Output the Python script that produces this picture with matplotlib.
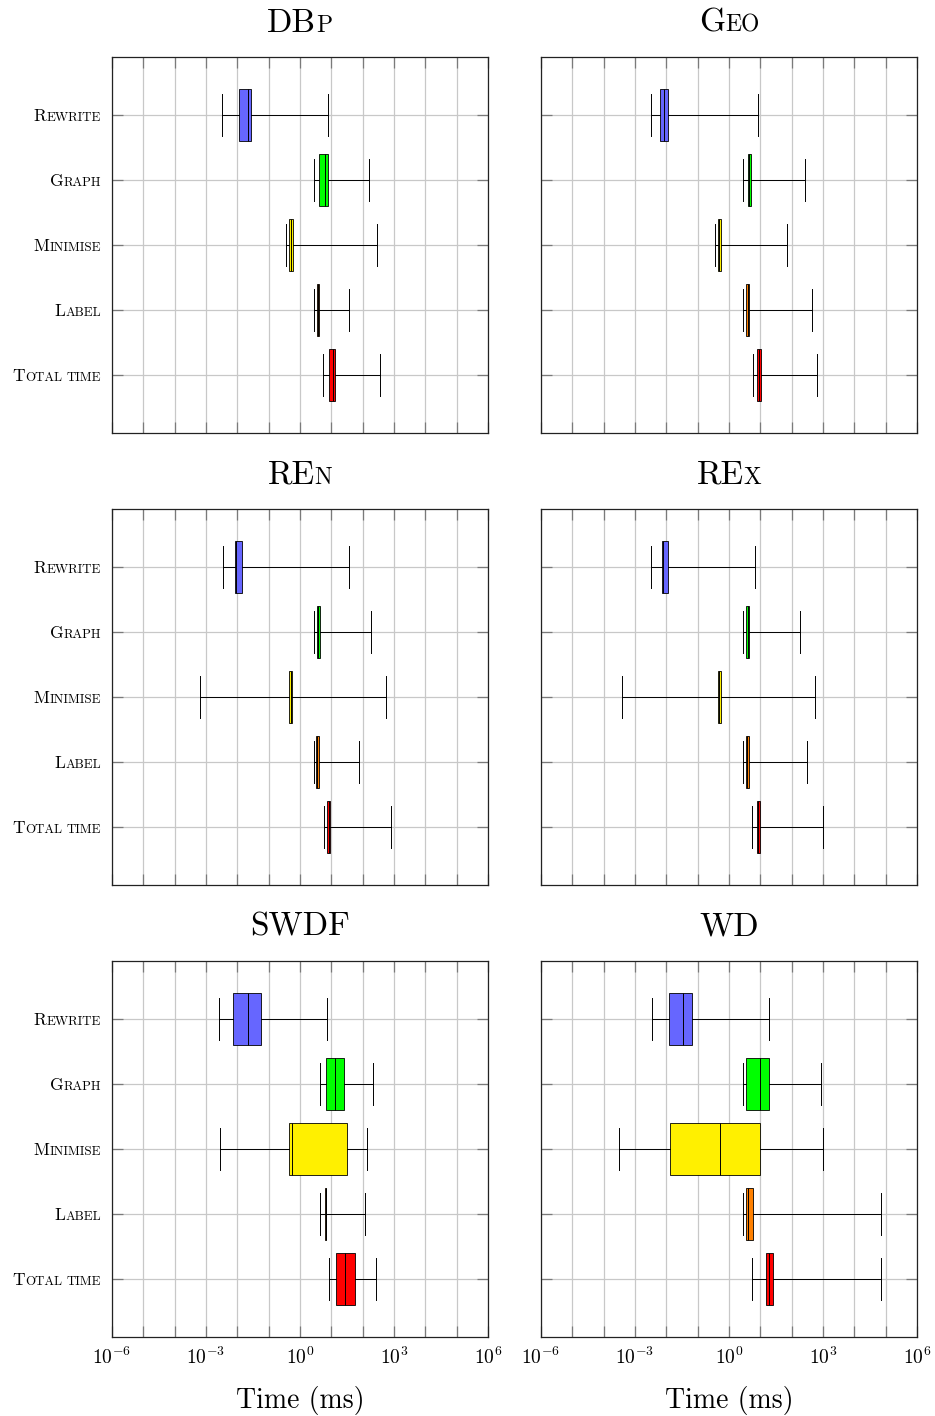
import matplotlib
matplotlib.use("Agg")
import matplotlib.pyplot as plt
from matplotlib.offsetbox import TextArea, HPacker, AnnotationBbox
from matplotlib.ticker import FixedLocator, FixedFormatter, NullLocator

plt.rcParams.update({
    "font.family": "cmr10",
    "mathtext.fontset": "cm",
    "axes.unicode_minus": False,
})

# Pipeline stages, top to bottom, and their box colours
STAGES = ["Rewrite", "Graph", "Minimise", "Label", "Total time"]
STAGE_COLORS = ["#6666ff", "#00ff00", "#fff000", "#ff8000", "#ff0000"]

# Per-stage summaries in ms: [whisker low, Q1, median, Q3, whisker high]
DBP = [[0.0033, 0.0115, 0.0214, 0.0282, 7.6],
       [2.8, 4.1, 6.2, 7.9, 158],
       [0.35, 0.43, 0.50, 0.58, 282],
       [2.8, 3.5, 3.8, 4.1, 38],
       [5.6, 8.5, 11.2, 13.2, 355]]
GEO = [[0.0032, 0.0062, 0.0083, 0.0115, 8.3],
       [2.9, 4.1, 4.5, 5.1, 257],
       [0.355, 0.43, 0.47, 0.55, 69],
       [2.8, 3.6, 3.9, 4.3, 437],
       [5.8, 8.1, 9.1, 10.2, 646]]
REN = [[0.0036, 0.0085, 0.0093, 0.0145, 36],
       [2.8, 3.5, 3.8, 4.4, 186],
       [0.00065, 0.45, 0.50, 0.56, 550],
       [2.8, 3.3, 3.5, 4.1, 79],
       [5.8, 7.2, 8.3, 9.3, 813]]
REX = [[0.0033, 0.0072, 0.0081, 0.0115, 6.9],
       [2.8, 3.5, 3.9, 4.4, 178],
       [0.00039, 0.46, 0.49, 0.55, 550],
       [2.8, 3.5, 3.8, 4.2, 309],
       [5.6, 7.6, 8.5, 9.5, 1020]]
SWDF = [[0.0026, 0.0071, 0.0224, 0.0575, 7.2],
        [4.3, 6.6, 12.9, 25.7, 214],
        [0.0028, 0.45, 0.56, 31, 141],
        [4.3, 6.3, 6.6, 6.9, 117],
        [8.7, 14.1, 27.5, 57.5, 275]]
WD = [[0.0036, 0.0123, 0.0347, 0.066, 18.6],
      [2.9, 3.4, 9.8, 19.1, 891],
      [0.00032, 0.0129, 0.52, 10, 1000],
      [2.8, 3.5, 4.0, 5.9, 70800],
      [5.6, 15.1, 19.1, 26.3, 70800]]

# Panel titles split into full-size capitals and small-caps tail
TITLES = [("DB", "P"), ("G", "EO"), ("RE", "N"), ("RE", "X"), ("SWDF", ""), ("WD", "")]
PANELS = [DBP, GEO, REN, REX, SWDF, WD]

XTICK_EXPONENTS = list(range(-6, 7))

W, H = 935, 1416
COL_LEFT = [112, 541]
ROW_TOP = [57, 509, 961]
SIDE = 376

TITLE_BIG, TITLE_SMALL = 24, 17
LABEL_BIG, LABEL_SMALL = 12.5, 9.3

fig = plt.figure(figsize=(W / 100, H / 100), dpi=100)


def small_caps(text, big, small):
    """Pack a phrase as small caps: first capital large, the rest small."""
    parts = []
    for word_i, word in enumerate(text.split(" ")):
        if word_i == 0:
            parts.append(TextArea(word[0].upper(), textprops=dict(fontsize=big, family="cmr10")))
            rest = word[1:].upper()
        else:
            parts.append(TextArea(" ", textprops=dict(fontsize=small, family="cmr10")))
            rest = word.upper()
        if rest:
            parts.append(TextArea(rest, textprops=dict(fontsize=small, family="cmr10")))
    return HPacker(children=parts, align="baseline", pad=0, sep=0)


positions = list(range(len(STAGES), 0, -1))

for idx, (data, title) in enumerate(zip(PANELS, TITLES)):
    r, c = divmod(idx, 2)
    left = COL_LEFT[c]
    top = ROW_TOP[r]
    ax = fig.add_axes([left / W, 1 - (top + SIDE) / H, SIDE / W, SIDE / H])

    stats = []
    for stage, row in zip(STAGES, data):
        lo, q1, med, q3, hi = row
        stats.append(dict(label=stage, whislo=lo, q1=q1, med=med, q3=q3,
                          whishi=hi, fliers=[]))

    res = ax.bxp(stats, positions=positions, orientation="horizontal",
                 widths=0.8, capwidths=0.64, patch_artist=True,
                 showfliers=False, manage_ticks=False,
                 boxprops=dict(edgecolor="black", linewidth=0.6),
                 medianprops=dict(color="black", linewidth=0.7),
                 whiskerprops=dict(color="black", linewidth=0.7),
                 capprops=dict(color="black", linewidth=0.7))
    for box, col in zip(res["boxes"], STAGE_COLORS):
        box.set_facecolor(col)
        box.set_zorder(3)
    for key in ("medians", "whiskers", "caps"):
        for ln in res[key]:
            ln.set_zorder(4)

    ax.set_xscale("log")
    ax.set_xlim(1e-6, 1e6)
    ax.set_ylim(0.115, 5.885)

    ax.xaxis.set_major_locator(FixedLocator([10.0 ** k for k in XTICK_EXPONENTS]))
    ax.xaxis.set_minor_locator(NullLocator())
    if r == 2:
        ax.xaxis.set_major_formatter(FixedFormatter(
            [rf"$10^{{{k}}}$" if k % 3 == 0 else "" for k in XTICK_EXPONENTS]))
        ax.set_xlabel("Time (ms)", fontsize=20, labelpad=13)
    else:
        ax.xaxis.set_major_formatter(FixedFormatter([""] * len(XTICK_EXPONENTS)))

    ax.set_yticks(positions)
    ax.set_yticklabels([""] * len(positions))

    ax.grid(True, color="#c8c8c8", linewidth=0.9)
    ax.set_axisbelow(True)
    ax.tick_params(which="major", direction="in", top=True, right=True,
                   length=8, width=0.9, color="#7a7a7a", labelsize=14, pad=7)
    for sp in ax.spines.values():
        sp.set_linewidth(0.9)
        sp.set_color("#222222")

    # Title with small-caps tail
    big, small = title
    parts = [TextArea(big, textprops=dict(fontsize=TITLE_BIG, family="cmr10"))]
    if small:
        parts.append(TextArea(small, textprops=dict(fontsize=TITLE_SMALL, family="cmr10")))
    tbox = HPacker(children=parts, align="baseline", pad=0, sep=0)
    ab = AnnotationBbox(tbox, (0.5, 1.0), xycoords="axes fraction",
                        xybox=(0, 14), boxcoords="offset points",
                        box_alignment=(0.5, 0.0), frameon=False,
                        annotation_clip=False)
    ax.add_artist(ab)

    # Stage labels on the left column
    if c == 0:
        for stage, pos in zip(STAGES, positions):
            lbl = small_caps(stage, LABEL_BIG, LABEL_SMALL)
            ab = AnnotationBbox(lbl, (0.0, pos), xycoords=ax.get_yaxis_transform(),
                                xybox=(-8, -1), boxcoords="offset points",
                                box_alignment=(1.0, 0.5), frameon=False,
                                annotation_clip=False)
            ax.add_artist(ab)

fig.savefig("out.png", dpi=100)
